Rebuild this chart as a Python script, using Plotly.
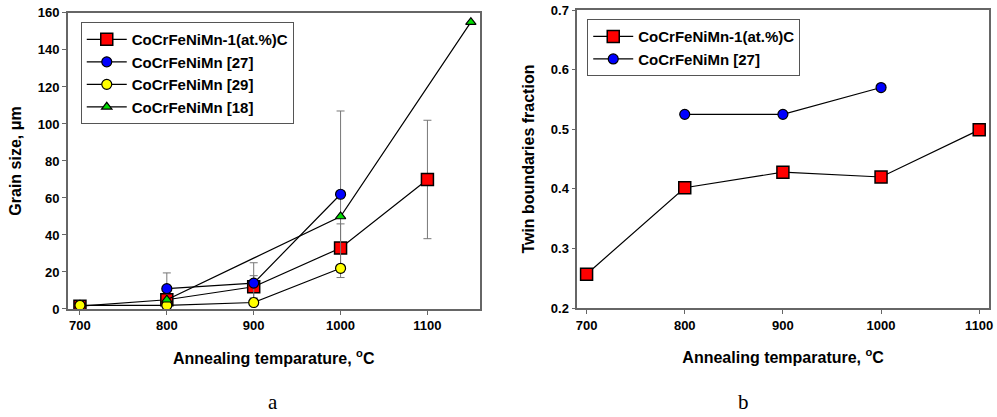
import plotly.graph_objects as go

# ---------- data: panel a (grain size) ----------
temp_c = [700, 800, 900, 1000, 1100]
size_c = [1.5, 5, 12, 33, 70]
err_c = [0, 0, 6, 13, 32]

temp_27 = [800, 900, 1000]
size_27 = [11, 14, 62]
err_27 = [8.5, 11, 45]

temp_29 = [700, 800, 900, 1000]
size_29 = [2, 2, 3.5, 22]

temp_18 = [800, 1000, 1150]
size_18 = [5, 50, 155]

# ---------- data: panel b (twin boundaries fraction) ----------
tb_temp_c = [700, 800, 900, 1000, 1100]
tb_c = [0.257, 0.402, 0.428, 0.420, 0.499]
tb_temp_27 = [800, 900, 1000]
tb_27 = [0.525, 0.525, 0.570]

x_ticks = [700, 800, 900, 1000, 1100]
names = ["CoCrFeNiMn-1(at.%)C", "CoCrFeNiMn [27]", "CoCrFeNiMn [29]", "CoCrFeNiMn [18]"]

LINE = dict(color="black", width=1.2)
ERR = dict(type="data", color="#777777", thickness=1, width=4)

fig = go.Figure()

fig.add_trace(go.Scatter(x=temp_c, y=size_c, name=names[0], mode="lines+markers",
                         line=LINE, error_y=dict(array=err_c, **ERR),
                         marker=dict(symbol="square", size=12, color="#ff0000",
                                     line=dict(color="black", width=1.5)),
                         xaxis="x", yaxis="y", legend="legend"))
fig.add_trace(go.Scatter(x=temp_27, y=size_27, name=names[1], mode="lines+markers",
                         line=LINE, error_y=dict(array=err_27, **ERR),
                         marker=dict(symbol="circle", size=10, color="#0000ff",
                                     line=dict(color="black", width=1.2)),
                         xaxis="x", yaxis="y", legend="legend"))
fig.add_trace(go.Scatter(x=temp_29, y=size_29, name=names[2], mode="lines+markers",
                         line=LINE,
                         marker=dict(symbol="circle", size=10, color="#ffff00",
                                     line=dict(color="black", width=1.2)),
                         xaxis="x", yaxis="y", legend="legend"))
fig.add_trace(go.Scatter(x=temp_18, y=size_18, name=names[3], mode="lines+markers",
                         line=LINE,
                         marker=dict(symbol="triangle-up", size=9, color="#00dd00",
                                     line=dict(color="black", width=1.2)),
                         xaxis="x", yaxis="y", legend="legend"))

fig.add_trace(go.Scatter(x=tb_temp_c, y=tb_c, name=names[0], mode="lines+markers",
                         line=LINE,
                         marker=dict(symbol="square", size=12, color="#ff0000",
                                     line=dict(color="black", width=1.5)),
                         xaxis="x2", yaxis="y2", legend="legend2"))
fig.add_trace(go.Scatter(x=tb_temp_27, y=tb_27, name=names[1], mode="lines+markers",
                         line=LINE,
                         marker=dict(symbol="circle", size=10, color="#0000ff",
                                     line=dict(color="black", width=1.2)),
                         xaxis="x2", yaxis="y2", legend="legend2"))

FONT = "Liberation Sans, Arial, sans-serif"
tickfont = dict(family=FONT, size=13, color="black", weight="bold")
titlefont = dict(family=FONT, size=16, color="black", weight="bold")
legfont = dict(family=FONT, size=15, color="black", weight="bold")
axcommon = dict(showgrid=False, zeroline=False, showline=True, mirror=True,
                linecolor="#666666", linewidth=1.5, ticks="outside", ticklen=4,
                tickcolor="#666666", tickwidth=1.2, tickfont=tickfont, automargin=False)

x_title = dict(text="Annealing temparature, <sup>o</sup>C", font=titlefont, standoff=20)

fig.update_layout(
    width=997, height=417,
    margin=dict(l=0, r=0, t=0, b=0, autoexpand=False),
    paper_bgcolor="white", plot_bgcolor="white",
    showlegend=True,
    xaxis=dict(domain=[0.068, 0.481], range=[686, 1160], tickvals=x_ticks,
               title=x_title, anchor="y", **axcommon),
    yaxis=dict(domain=[0.259, 0.969], range=[0, 160], dtick=20,
               title=dict(text="Grain size, μm", font=titlefont, standoff=12),
               anchor="x", **axcommon),
    xaxis2=dict(domain=[0.579, 0.992], range=[690.5, 1110], tickvals=x_ticks,
                title=x_title, anchor="y2", **axcommon),
    yaxis2=dict(domain=[0.261, 0.976], range=[0.2, 0.7], dtick=0.1, tickformat=".1f",
                title=dict(text="Twin boundaries fraction", font=titlefont, standoff=12),
                anchor="x2", **axcommon),
    legend=dict(x=0.081, y=0.947, xanchor="left", yanchor="top",
                bordercolor="#555555", borderwidth=1, bgcolor="white",
                font=legfont, tracegroupgap=0, itemwidth=40),
    legend2=dict(x=0.589, y=0.954, xanchor="left", yanchor="top",
                 bordercolor="#555555", borderwidth=1, bgcolor="white",
                 font=legfont, tracegroupgap=0, itemwidth=40),
    annotations=[
        dict(text="a", x=273 / 997, y=1 - 402 / 417, xref="paper", yref="paper",
             xanchor="center", yanchor="middle", showarrow=False,
             font=dict(family="Liberation Serif, serif", size=21, color="black")),
        dict(text="b", x=743 / 997, y=1 - 402 / 417, xref="paper", yref="paper",
             xanchor="center", yanchor="middle", showarrow=False,
             font=dict(family="Liberation Serif, serif", size=21, color="black")),
    ],
)

fig.write_html("out.html")
